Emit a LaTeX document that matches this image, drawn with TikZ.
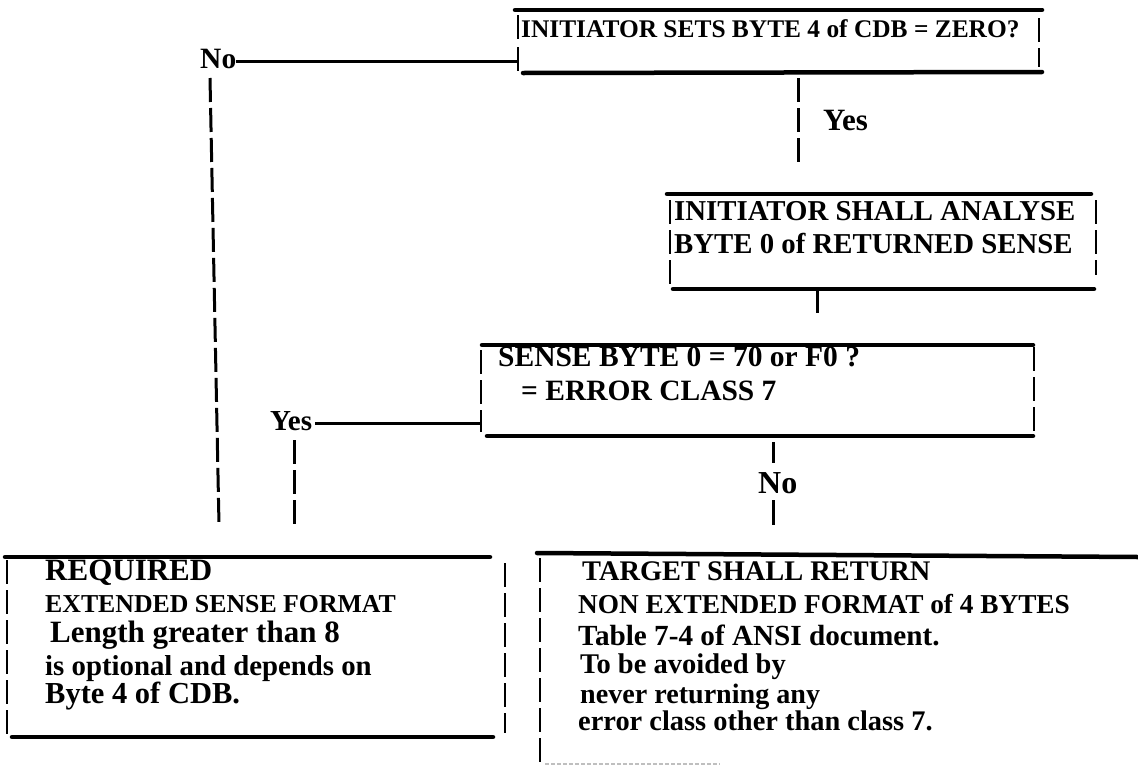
\documentclass[tikz,border=0pt]{standalone}
\usepackage{fontspec}
\setmainfont{Liberation Serif}
\newcommand{\fsz}[1]{\fontsize{#1}{#1}\selectfont}
\begin{document}
\begin{tikzpicture}[x=1pt,y=-1pt,
  rule/.style={line width=4.5pt, line cap=round},
  bar/.style={line width=2.5pt, dash pattern=on 24pt off 6pt},
  conn/.style={line width=3pt},
  dconn/.style={line width=3pt, dash pattern=on 24pt off 6pt},
  txt/.style={anchor=base west, inner sep=0pt},
  boxarea/.style={inner sep=0pt, draw=none, minimum width=#1},
  faint/.style={line width=1.5pt, black!25, dash pattern=on 4pt off 2pt}]
\useasboundingbox (0,0) rectangle (1138,766);
\fill[white] (0,0) rectangle (1138,766);

% ---------- Box 1 ----------
\node[boxarea=524pt, minimum height=63pt] (b1) at (779,41.5) {};
\draw[rule] (515,10) -- (1042,10);
\draw[rule] (523,73) -- (1042,72);
\draw[bar] (518,15) -- (518,42);
\draw[bar] (518,47) -- (518,71);
\draw[bar] (1039,18) -- (1039,67);
\node[txt, font=\bfseries\fsz{25.4}] (b1t) at (521,37) {INITIATOR SETS BYTE 4 of CDB = ZERO?};

% No branch (left)
\node[txt, font=\bfseries\fsz{29.5}] (no1) at (200,68) {No};
\coordinate (no1e) at (236,61);
\draw[conn] (no1e) -- (no1e -| b1.west);
\coordinate (l1a) at (210,78);
\coordinate (l1b) at (219,525);
\draw[dconn] (l1a) -- (l1b);

% Yes branch (down)
\coordinate (y1a) at (798,78);
\coordinate (y1b) at (798,162);
\draw[dconn] (y1a) -- (y1b);
\node[txt, font=\bfseries\fsz{31}] (yes1) at (823,130) {Yes};

% ---------- Box 2 ----------
\node[boxarea=427pt, minimum height=95pt] (b2) at (881,241.5) {};
\draw[rule] (667,194) -- (1091,194);
\draw[rule] (673,289) -- (1094,289);
\draw[bar] (670,200) -- (670,287);
\draw[bar] (1096,200) -- (1096,275);
\node[txt, font=\bfseries\fsz{28.8}] (b2t1) at (674,220) {INITIATOR SHALL ANALYSE};
\node[txt, font=\bfseries\fsz{28.8}] (b2t2) at (674,253) {BYTE 0 of RETURNED SENSE};

\coordinate (c2a) at (817,291);
\coordinate (c2b) at (817,313);
\draw[conn] (c2a) -- (c2b);

% ---------- Box 3 ----------
\node[boxarea=553pt, minimum height=91pt] (b3) at (757.5,390.5) {};
\draw[rule] (482,345) -- (1033,345);
\draw[rule] (487,436) -- (1033,436);
\draw[bar] (481,350) -- (481,432);
\draw[bar] (1034,347) -- (1034,433);
\node[txt, font=\bfseries\fsz{29.5}] (b3t1) at (498,366) {SENSE BYTE 0 = 70 or F0 ?};
\node[txt, font=\bfseries\fsz{29.5}] (b3t2) at (521,400) {= ERROR CLASS 7};

% Yes branch (left)
\node[txt, font=\bfseries\fsz{29}] (yes2) at (270,430) {Yes};
\coordinate (yes2e) at (315,423);
\draw[conn] (yes2e) -- (yes2e -| b3.west);
\coordinate (y2a) at (294,440);
\coordinate (y2b) at (294,525);
\draw[dconn] (y2a) -- (y2b);

% No branch (down)
\coordinate (n2a) at (773,442);
\coordinate (n2b) at (773,463);
\draw[conn] (n2a) -- (n2b);
\node[txt, font=\bfseries\fsz{32}] (no2) at (758,493) {No};
\coordinate (n2c) at (773,500);
\coordinate (n2d) at (773,525);
\draw[conn] (n2c) -- (n2d);

% ---------- Box 4 ----------
\node[boxarea=500pt, minimum height=180pt] (b4) at (255,647) {};
\draw[rule] (5,557) -- (490,557);
\draw[rule] (12,737) -- (493,737);
\draw[bar] (7,560) -- (7,735);
\draw[bar] (505,563) -- (505,733);
\node[txt, font=\bfseries\fsz{31}] (b4t1) at (45,580) {REQUIRED};
\node[txt, font=\bfseries\fsz{25.8}] (b4t2) at (45,612) {EXTENDED SENSE FORMAT};
\node[txt, font=\bfseries\fsz{31}] (b4t3) at (50,642) {Length greater than 8};
\node[txt, font=\bfseries\fsz{28.8}] (b4t4) at (45,675) {is optional and depends on};
\node[txt, font=\bfseries\fsz{30.5}] (b4t5) at (45,703) {Byte 4 of CDB.};

% ---------- Box 5 ----------
\node[boxarea=600pt, minimum height=210pt] (b5) at (838,660) {};
\draw[rule] (537,553) -- (1138,557);
\draw[bar] (540,558) -- (540,766);
\draw[faint] (545,764) -- (720,764);
\node[txt, font=\bfseries\fsz{28.4}] (b5t1) at (582,580) {TARGET SHALL RETURN};
\node[txt, font=\bfseries\fsz{27.3}] (b5t2) at (578,613) {NON EXTENDED FORMAT of 4 BYTES};
\node[txt, font=\bfseries\fsz{29.2}] (b5t3) at (578,645) {Table 7-4 of ANSI document.};
\node[txt, font=\bfseries\fsz{28.5}] (b5t4) at (580,673) {To be avoided by};
\node[txt, font=\bfseries\fsz{28.1}] (b5t5) at (580,703) {never returning any};
\node[txt, font=\bfseries\fsz{28.4}] (b5t6) at (578,730) {error class other than class 7.};
\end{tikzpicture}
\end{document}
